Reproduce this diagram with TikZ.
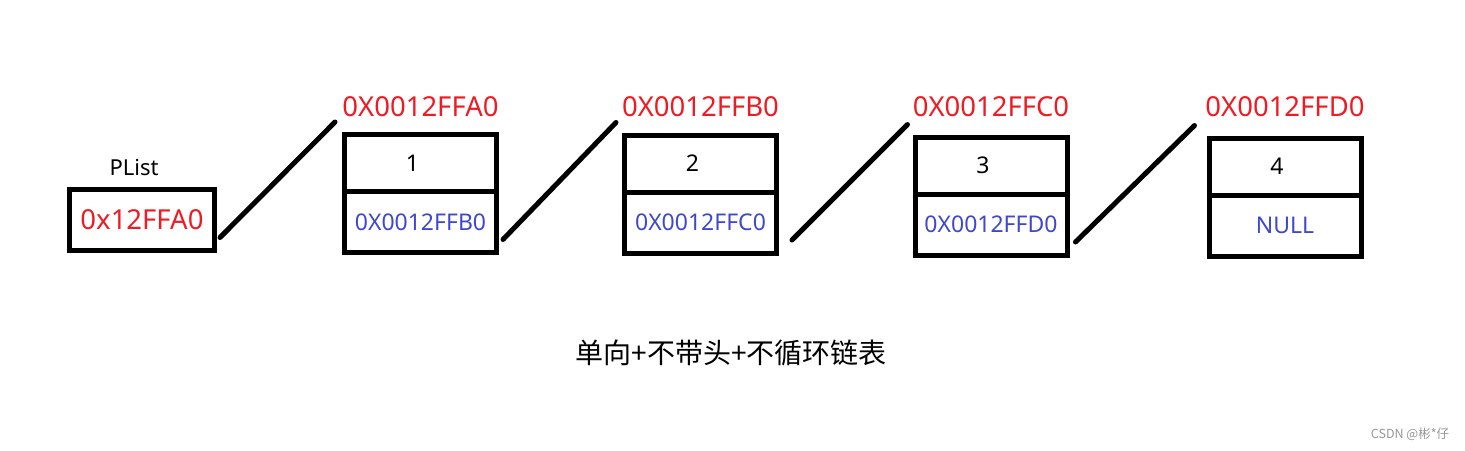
\documentclass[tikz,border=0pt]{standalone}
\usepackage{fontspec}
\setmainfont{Noto Sans}
\newfontfamily\cjk{Noto Sans CJK SC}
\definecolor{lsred}  {RGB}{237,28,36}
\definecolor{lsblue} {RGB}{63,72,204}
\definecolor{lsgray} {RGB}{150,150,150}
\usetikzlibrary{positioning,calc}
\tikzset{
  cell/.style={rectangle,draw=black,line width=5pt,minimum width=152pt,
               inner sep=0pt,outer sep=0pt},
  datacell/.style={cell,minimum height=57pt},
  nextcell/.style={cell,minimum height=61pt,text=lsblue,
                   font=\fontsize{23}{27}\selectfont},
  addr/.style={text=lsred,inner sep=0pt,font=\fontsize{27.5}{31}\selectfont},
  link/.style={line width=5pt,line cap=round},
}

\begin{document}
\begin{tikzpicture}[x=1pt,y=-1pt]
  \useasboundingbox (0,0) rectangle (1465,450);
  % head pointer
  \node[cell,addr,minimum width=145pt,minimum height=61pt] (plist) at (142,220) {0x12FFA0};
  \node[inner sep=0pt,anchor=base,font=\fontsize{22}{26}\selectfont] (plab) at (134,175) {PList};
  % list nodes
  \foreach \i/\x/\y/\val/\nxt/\adr in {
    1/420.5/191.5/1/0X0012FFB0/0X0012FFA0,
    2/700.5/192/2/0X0012FFC0/0X0012FFB0,
    3/991/194/3/0X0012FFD0/0X0012FFC0,
    4/1285/195/4/NULL/0X0012FFD0}{
    \node[datacell,anchor=south] (d\i) at (\x,\y) {};
    \node[nextcell,below=0pt of d\i] (n\i) {\nxt};
    \node[font=\fontsize{23}{27}\selectfont] (v\i) at ([xshift=-8pt]d\i.center) {\val};
    \node[addr,anchor=base] (a\i) at (\x,116) {\adr};
  }
  % links
  \foreach \a/\b/\s/\e in {plist/d1/5.5/9.5, n1/d2/6.5/8.5, n2/d3/15.5/7.5, n3/d4/8.5/14.5}
    \draw[link] ([xshift=\s pt,yshift=13pt]\a.south east)
          -- ([xshift=-\e pt,yshift=12.5pt]\b.north west);
  \node[font=\cjk\fontsize{28}{31}\selectfont] (title) at (731,353) {单向+不带头+不循环链表};
  \node[font=\cjk\fontsize{12.5}{14}\selectfont,text=lsgray] (mark) at (1410,434) {CSDN @彬*仔};
\end{tikzpicture}
\end{document}
